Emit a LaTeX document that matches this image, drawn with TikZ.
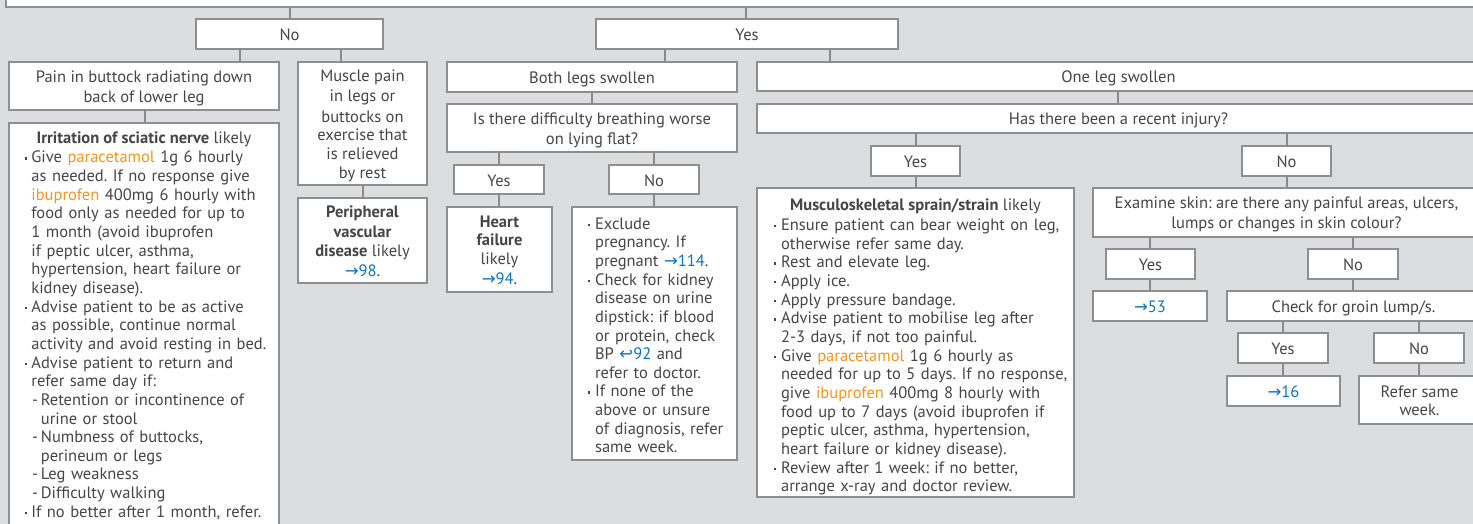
\documentclass[tikz,border=0pt]{standalone}
\usepackage{fontspec}
\setmainfont{PT Sans}
\newfontfamily\arrowfont{DejaVu Sans}

\definecolor{bg}{HTML}{DCDDDF}
\definecolor{edge}{HTML}{8E8E8E}
\definecolor{wire}{HTML}{8A8A8A}
\definecolor{ink}{HTML}{454545}
\definecolor{drugorange}{HTML}{F7941D}
\definecolor{linkblue}{HTML}{0B75C0}

\newcommand\fs{\fontsize{16.5}{18.65}\selectfont\frenchspacing}
% line strut for centred box text
\newcommand\ls{\rule[-2.7pt]{0pt}{18.65pt}}
\newcommand\drug[1]{\textcolor{drugorange}{#1}}
\newcommand\rf[1]{\textcolor{linkblue}{{\arrowfont →}#1}}
\newcommand\rtn[1]{\textcolor{linkblue}{{\arrowfont ↩}#1}}
% bullet item and dash sub-item with hanging indent
\newcommand\itm{\par\hangindent=7.5pt\hangafter=1\noindent\strut
  \hbox to 7.5pt{\kern0.6pt\raisebox{0.2em}{\rule{2.2pt}{2.2pt}}\hss}}
\newcommand\sitm{\par\hangindent=17pt\hangafter=1\noindent\strut
  \hbox to 17pt{\kern8.3pt-\hss}}
% box from (x1,y1) to (x2,y2): name, x1, y1, x2, y2, text
\newcommand\bx[6]{\node[box,minimum width=#4pt-#2pt,minimum height=#5pt-#3pt]
  (#1) at ({(#2+#4)/2},{(#3+#5)/2}) {#6};}
% vertical connector at a given x
\newcommand\cn[3]{\draw[conn] (#1.south -| #3,0) -- (#2.north -| #3,0);}

\tikzset{
  box/.style={draw=edge, fill=white, line width=1.3pt, inner sep=0pt,
    outer sep=0pt, align=center, font=\fs, text=ink},
  conn/.style={draw=wire, line width=2.4pt},
  body/.style={anchor=north west, inner sep=0pt, text width=400pt,
    align=left, font=\fs, text=ink},
  ttl/.style={anchor=base, inner sep=0pt, font=\fs, text=ink},
}

\begin{document}
\begin{tikzpicture}[x=1pt,y=-1pt]
\useasboundingbox (0,0) rectangle (1473,524);
\fill[bg] (0,0) rectangle (1473,524);

% first question and its answers
\bx{top}{6}{-40}{1480}{7}{}
\bx{no1}{196}{19}{383}{49}{\ls No}
\bx{yes1}{596}{19}{898}{49}{\ls Yes}

% no swelling
\bx{pain}{9}{62}{279}{110}{\ls Pain in buttock radiating down\\\ls back of lower leg}
\bx{sciatic}{9}{123}{279}{545}{}
\node[ttl] (sciatic-t) at (144,143.5) {\textbf{Irritation of sciatic nerve} likely};
\node[body] (sciatic-b) at (23.7,144.1) {%
\itm Give \drug{paracetamol} 1g 6 hourly\newline
as needed. If no response give\newline
\drug{ibuprofen} 400mg 6 hourly with\newline
food only as needed for up to\newline
1 month (avoid ibuprofen\newline
if peptic ulcer, asthma,\newline
hypertension, heart failure or\newline
kidney disease).
\itm Advise patient to be as active\newline
as possible, continue normal\newline
activity and avoid resting in bed.
\itm Advise patient to return and\newline
refer same day if:
\sitm Retention or incontinence of\newline
urine or stool
\sitm Numbness of buttocks,\newline
perineum or legs
\sitm Leg weakness
\sitm Difficulty walking
\itm If no better after 1 month, refer.\par};

\bx{muscle}{298}{62}{427}{185}{\ls Muscle pain\\\ls in legs or\\\ls buttocks on\\\ls exercise that\\\ls is relieved\\\ls by rest}
\bx{pvd}{298}{198}{427}{283}{\ls\textbf{Peripheral}\\\ls\textbf{vascular}\\\ls\textbf{disease} likely\\\ls\rf{98}.}

% both legs swollen
\bx{both}{447}{62}{737}{92}{\ls Both legs swollen}
\bx{diff}{447}{104}{737}{152}{\ls Is there difficulty breathing worse\\\ls on lying flat?}
\bx{yes2}{454}{165}{544}{194}{\ls Yes}
\bx{no2}{609}{165}{699}{194}{\ls No}
\bx{hf}{447}{207}{552}{292}{\ls\textbf{Heart}\\\ls\textbf{failure}\\\ls likely\\\ls\rf{94}.}
\bx{excl}{572}{207}{737}{460}{}
\node[body] (excl-b) at (587.4,210.3) {%
\itm Exclude\newline
pregnancy. If\newline
pregnant \rf{114}.
\itm Check for kidney\newline
disease on urine\newline
dipstick: if blood\newline
or protein, check\newline
BP \rtn{92} and\newline
refer to doctor.
\itm If none of the\newline
above or unsure\newline
of diagnosis, refer\newline
same week.\par};

% one leg swollen
\bx{one}{757}{62}{1480}{91}{\ls One leg swollen}
\bx{recent}{757}{104}{1480}{133}{\ls Has there been a recent injury?}
\bx{yes3}{871}{146}{960}{176}{\ls Yes}
\bx{no3}{1242}{146}{1331}{176}{\ls No}
\bx{msk}{757}{188}{1074}{497}{}
\node[ttl] (msk-t) at (915.5,210.5) {\textbf{Musculoskeletal sprain/strain} likely};
\node[body] (msk-b) at (773.4,211.8) {%
\itm Ensure patient can bear weight on leg,\newline
otherwise refer same day.
\itm Rest and elevate leg.
\itm Apply ice.
\itm Apply pressure bandage.
\itm Advise patient to mobilise leg after\newline
2-3 days, if not too painful.
\itm Give \drug{paracetamol} 1g 6 hourly as\newline
needed for up to 5 days. If no response,\newline
give \drug{ibuprofen} 400mg 8 hourly with\newline
food up to 7 days (avoid ibuprofen if\newline
peptic ulcer, asthma, hypertension,\newline
heart failure or kidney disease).
\itm Review after 1 week: if no better,\newline
arrange x-ray and doctor review.\par};

\bx{skin}{1093}{188}{1480}{237}{\ls Examine skin: are there any painful areas, ulcers,\\\ls lumps or changes in skin colour?}
\bx{yes4}{1106}{249}{1195}{279}{\ls Yes}
\bx{r53}{1093}{291}{1207}{321}{\ls\rf{53}}
\bx{no4}{1308}{249}{1398}{279}{\ls No}
\bx{groin}{1227}{291}{1480}{321}{\ls Check for groin lump/s.}
\bx{yes5}{1238}{333}{1328}{363}{\ls Yes}
\bx{r16}{1227}{376}{1340}{406}{\ls\rf{16}}
\bx{no5}{1374}{333}{1464}{363}{\ls No}
\bx{refer}{1359}{376}{1480}{424}{\ls Refer same\\\ls week.}

% connectors
\cn{top}{no1}{290}
\cn{top}{yes1}{746}
\cn{no1}{pain}{240}
\cn{no1}{muscle}{341}
\cn{pain}{sciatic}{145}
\cn{muscle}{pvd}{363}
\cn{yes1}{both}{665}
\cn{yes1}{one}{830}
\cn{both}{diff}{592}
\cn{diff}{yes2}{499}
\cn{diff}{no2}{654}
\cn{yes2}{hf}{499}
\cn{no2}{excl}{654}
\cn{one}{recent}{1118}
\cn{recent}{yes3}{916}
\cn{recent}{no3}{1287}
\cn{yes3}{msk}{916}
\cn{no3}{skin}{1287}
\cn{skin}{yes4}{1150}
\cn{skin}{no4}{1353}
\cn{yes4}{r53}{1150}
\cn{no4}{groin}{1353}
\cn{groin}{yes5}{1283}
\cn{groin}{no5}{1419}
\cn{yes5}{r16}{1283}
\cn{no5}{refer}{1419}
\end{tikzpicture}
\end{document}
